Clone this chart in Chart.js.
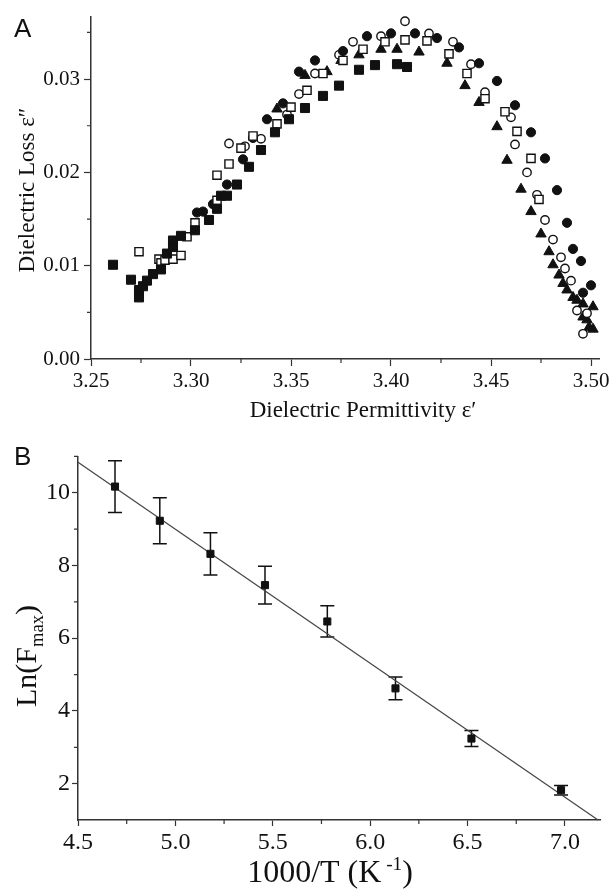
<!DOCTYPE html>
<html>
<head>
<meta charset="utf-8">
<script src="https://cdn.jsdelivr.net/npm/chart.js@4.4.0/dist/chart.umd.min.js"></script>
<style>
  html, body { margin: 0; padding: 0; background: #fff; }
  #wrap { position: relative; width: 613px; height: 889px; overflow: hidden; }
  .box { position: absolute; left: 0; width: 613px; }
  #boxA { top: 0; height: 440px; }
  #boxB { top: 440px; height: 449px; }
</style>
</head>
<body>
<div id="wrap">
  <div class="box" id="boxA"><canvas id="chartA" width="613" height="440"></canvas></div>
  <div class="box" id="boxB"><canvas id="chartB" width="613" height="449"></canvas></div>
</div>
<script>
// ---- panel A: dielectric loss vs permittivity ----
const filledSqX = [3.261, 3.270, 3.274, 3.274, 3.276, 3.278, 3.281, 3.285, 3.288, 3.291, 3.291, 3.295, 3.302, 3.309, 3.313, 3.315, 3.318, 3.323, 3.329, 3.335, 3.342, 3.349, 3.357, 3.366, 3.374, 3.384, 3.392, 3.403, 3.408]
const filledSqY = [0.0101, 0.0085, 0.0066, 0.0074, 0.0078, 0.0084, 0.0091, 0.0096, 0.0113, 0.0120, 0.0127, 0.0132, 0.0138, 0.0149, 0.0161, 0.0175, 0.0175, 0.0187, 0.0206, 0.0224, 0.0243, 0.0257, 0.0269, 0.0282, 0.0293, 0.0310, 0.0315, 0.0316, 0.0313]

const openSqX = [3.274, 3.284, 3.285, 3.287, 3.291, 3.295, 3.298, 3.302, 3.313, 3.313, 3.319, 3.325, 3.331, 3.343, 3.350, 3.358, 3.366, 3.376, 3.386, 3.397, 3.407, 3.418, 3.429, 3.438, 3.447, 3.457, 3.463, 3.470, 3.474]
const openSqY = [0.0115, 0.0107, 0.0103, 0.0106, 0.0107, 0.0111, 0.0131, 0.0146, 0.0170, 0.0197, 0.0209, 0.0226, 0.0239, 0.0252, 0.0270, 0.0288, 0.0306, 0.0320, 0.0332, 0.0340, 0.0342, 0.0341, 0.0327, 0.0306, 0.0279, 0.0265, 0.0244, 0.0215, 0.0171]

const filledCircX = [3.303, 3.306, 3.311, 3.318, 3.326, 3.331, 3.338, 3.346, 3.354, 3.362, 3.376, 3.388, 3.400, 3.412, 3.423, 3.434, 3.444, 3.453, 3.462, 3.470, 3.477, 3.483, 3.488, 3.491, 3.495, 3.496, 3.500]
const filledCircY = [0.0157, 0.0158, 0.0166, 0.0187, 0.0214, 0.0237, 0.0257, 0.0274, 0.0308, 0.0320, 0.0330, 0.0346, 0.0349, 0.0349, 0.0344, 0.0334, 0.0317, 0.0298, 0.0272, 0.0243, 0.0215, 0.0181, 0.0146, 0.0118, 0.0105, 0.0071, 0.0079]

const openCircX = [3.319, 3.327, 3.335, 3.348, 3.354, 3.362, 3.374, 3.381, 3.395, 3.407, 3.419, 3.431, 3.440, 3.447, 3.460, 3.462, 3.468, 3.473, 3.477, 3.481, 3.485, 3.487, 3.490, 3.493, 3.496, 3.498]
const openCircY = [0.0231, 0.0228, 0.0236, 0.0262, 0.0284, 0.0306, 0.0326, 0.0340, 0.0346, 0.0362, 0.0349, 0.0340, 0.0316, 0.0286, 0.0259, 0.0230, 0.0200, 0.0176, 0.0149, 0.0128, 0.0109, 0.0097, 0.0084, 0.0052, 0.0027, 0.0049]

const triX = [3.343, 3.357, 3.368, 3.375, 3.384, 3.395, 3.403, 3.414, 3.428, 3.437, 3.444, 3.453, 3.458, 3.465, 3.470, 3.475, 3.479, 3.481, 3.484, 3.486, 3.488, 3.491, 3.493, 3.496, 3.496, 3.498, 3.499, 3.501, 3.501]
const triY = [0.0268, 0.0304, 0.0308, 0.0320, 0.0326, 0.0332, 0.0332, 0.0329, 0.0317, 0.0293, 0.0275, 0.0249, 0.0213, 0.0182, 0.0158, 0.0134, 0.0115, 0.0101, 0.0090, 0.0081, 0.0074, 0.0066, 0.0063, 0.0059, 0.0045, 0.0042, 0.0034, 0.0056, 0.0032]

const aXTicks = [3.25, 3.30, 3.35, 3.40, 3.45, 3.50]
const aXMinor = [3.275, 3.325, 3.375, 3.425, 3.475]
const aYTicks = [0.00, 0.01, 0.02, 0.03]
const aYMinor = [0.005, 0.015, 0.025, 0.035]

// ---- panel B: Arrhenius plot ----
const invT = [4.69, 4.92, 5.18, 5.46, 5.78, 6.13, 6.52, 6.98]
const lnFmax = [10.17, 9.23, 8.32, 7.46, 6.46, 4.62, 3.24, 1.82]
const lnErr = [0.71, 0.63, 0.58, 0.52, 0.43, 0.31, 0.22, 0.13]
const fitX = [4.5, 7.17]
const fitY = [10.84, 1.0]

const bXTicks = [4.5, 5.0, 5.5, 6.0, 6.5, 7.0]
const bXMinor = [4.75, 5.25, 5.75, 6.25, 6.75]
const bYTicks = [2, 4, 6, 8, 10]
const bYMinor = [3, 5, 7, 9, 11]

const ink = '#111'
const axisInk = '#333'
const serif = "'Liberation Serif', 'DejaVu Serif', serif"
const sans = "'Liberation Sans', Arial, sans-serif"

const pts = (xs, ys) => xs.map((x, i) => ({ x, y: ys[i] }))

const marker = (data, style, radius, filled) => ({
    data,
    pointStyle: style,
    pointRadius: radius,
    pointBackgroundColor: filled ? ink : '#fff',
    pointBorderColor: ink,
    pointBorderWidth: filled ? 1 : 1.4,
    showLine: false,
    clip: false,
})

// short outward ticks between the labelled ones
const minorTicksPlugin = {
    id: 'minorTicks',
    afterDraw(chart, args, opts) {
        const ctx = chart.ctx
        const xs = chart.scales.x
        const ys = chart.scales.y
        ctx.save()
        ctx.strokeStyle = axisInk
        ctx.lineWidth = 1.2
        ctx.beginPath()
        ;(opts.x || []).forEach((v) => {
            const px = xs.getPixelForValue(v)
            ctx.moveTo(px, xs.top)
            ctx.lineTo(px, xs.top + opts.len)
        })
        ;(opts.y || []).forEach((v) => {
            const py = ys.getPixelForValue(v)
            ctx.moveTo(ys.right, py)
            ctx.lineTo(ys.right - opts.len, py)
        })
        ctx.stroke()
        ctx.restore()
    },
}

// axis titles with sub/superscripts, panel letters
function drawRich(ctx, it) {
    ctx.save()
    ctx.translate(it.x, it.y)
    if (it.rot) ctx.rotate(it.rot)
    ctx.fillStyle = ink
    ctx.textBaseline = 'alphabetic'
    let total = 0
    const segs = it.parts.map((p) => {
        const size = it.size * (p.scale || 1)
        ctx.font = size + 'px ' + it.family
        const w = ctx.measureText(p.t).width
        total += w
        return { t: p.t, size, w, dy: (p.dy || 0) * it.size }
    })
    let cx = it.align === 'left' ? 0 : -total / 2
    segs.forEach((s) => {
        ctx.font = s.size + 'px ' + it.family
        ctx.fillText(s.t, cx, s.dy)
        cx += s.w
    })
    ctx.restore()
}

const textPlugin = {
    id: 'texts',
    afterDraw(chart, args, opts) {
        ;(opts.items || []).forEach((it) => drawRich(chart.ctx, it))
    },
}

const errorBarPlugin = {
    id: 'errorBars',
    beforeDatasetsDraw(chart, args, opts) {
        const ctx = chart.ctx
        const xs = chart.scales.x
        const ys = chart.scales.y
        ctx.save()
        ctx.strokeStyle = ink
        ctx.lineWidth = 1.5
        ctx.beginPath()
        opts.x.forEach((x, i) => {
            const px = xs.getPixelForValue(x)
            const top = ys.getPixelForValue(opts.y[i] + opts.err[i])
            const bot = ys.getPixelForValue(opts.y[i] - opts.err[i])
            ctx.moveTo(px, top)
            ctx.lineTo(px, bot)
            ctx.moveTo(px - opts.cap, top)
            ctx.lineTo(px + opts.cap, top)
            ctx.moveTo(px - opts.cap, bot)
            ctx.lineTo(px + opts.cap, bot)
        })
        ctx.stroke()
        ctx.restore()
    },
}

const axis = (min, max, majors, fmt, fontSize, tickLen, pad, fit) => ({
    type: 'linear',
    min,
    max,
    afterBuildTicks: (s) => {
        s.ticks = majors.map((v) => ({ value: v }))
    },
    afterFit: fit,
    ticks: {
        autoSkip: false,
        maxRotation: 0,
        padding: pad,
        color: ink,
        font: { family: serif, size: fontSize },
        callback: fmt,
    },
    grid: {
        drawOnChartArea: false,
        drawTicks: true,
        tickLength: tickLen,
        tickColor: axisInk,
        tickWidth: 1.2,
        color: axisInk,
    },
    border: { display: true, color: axisInk, width: 1.5 },
})

new Chart(document.getElementById('chartA'), {
    type: 'scatter',
    data: {
        datasets: [
            marker(pts(filledSqX, filledSqY), 'rect', 6.4, true),
            marker(pts(openSqX, openSqY), 'rect', 5.8, false),
            marker(pts(filledCircX, filledCircY), 'circle', 4.6, true),
            marker(pts(openCircX, openCircY), 'circle', 4.2, false),
            marker(pts(triX, triY), 'triangle', 6, true),
        ],
    },
    options: {
        responsive: false,
        animation: false,
        events: [],
        layout: { padding: { top: 15, right: 14, left: 0, bottom: 0 } },
        plugins: {
            legend: { display: false },
            tooltip: { enabled: false },
            minorTicks: { x: aXMinor, y: aYMinor, len: 4 },
            texts: {
                items: [
                    { parts: [{ t: 'A' }], x: 14, y: 37, size: 26, family: sans, align: 'left' },
                    { parts: [{ t: 'Dielectric Loss ε″' }], x: 34, y: 190, rot: -Math.PI / 2, size: 23, family: serif },
                    { parts: [{ t: 'Dielectric Permittivity ε′' }], x: 363, y: 417, size: 23, family: serif },
                ],
            },
        },
        scales: {
            x: axis(3.25, 3.504, aXTicks, (v) => v.toFixed(2), 21, 7, 3, (s) => { s.height = 81 }),
            y: axis(0, 0.0367, aYTicks, (v) => v.toFixed(2), 21, 7, 4, (s) => { s.width = 91 }),
        },
    },
    plugins: [minorTicksPlugin, textPlugin],
})

new Chart(document.getElementById('chartB'), {
    type: 'scatter',
    data: {
        datasets: [
            {
                type: 'line',
                data: pts(fitX, fitY),
                borderColor: '#444',
                borderWidth: 1.2,
                pointRadius: 0,
                fill: false,
                clip: false,
                order: 2,
            },
            { ...marker(pts(invT, lnFmax), 'rect', 5, true), order: 1 },
        ],
    },
    options: {
        responsive: false,
        animation: false,
        events: [],
        layout: { padding: { top: 14, right: 13, left: 0, bottom: 0 } },
        plugins: {
            legend: { display: false },
            tooltip: { enabled: false },
            minorTicks: { x: bXMinor, y: bYMinor, len: 4 },
            errorBars: { x: invT, y: lnFmax, err: lnErr, cap: 7 },
            texts: {
                items: [
                    { parts: [{ t: 'B' }], x: 14, y: 25, size: 26, family: sans, align: 'left' },
                    {
                        parts: [{ t: 'Ln(F' }, { t: 'max', scale: 0.62, dy: 0.22 }, { t: ')' }],
                        x: 36, y: 216, rot: -Math.PI / 2, size: 30, family: serif,
                    },
                    {
                        parts: [{ t: '1000/T (K' }, { t: ' -1', scale: 0.6, dy: -0.38 }, { t: ')' }],
                        x: 330, y: 442, size: 32, family: serif,
                    },
                ],
            },
        },
        scales: {
            x: axis(4.5, 7.18, bXTicks, (v) => v.toFixed(1), 24, 6, 2, (s) => { s.height = 69 }),
            y: axis(1, 11, bYTicks, (v) => String(v), 24, 6, 2, (s) => { s.width = 78 }),
        },
    },
    plugins: [minorTicksPlugin, errorBarPlugin, textPlugin],
})
</script>
</body>
</html>
